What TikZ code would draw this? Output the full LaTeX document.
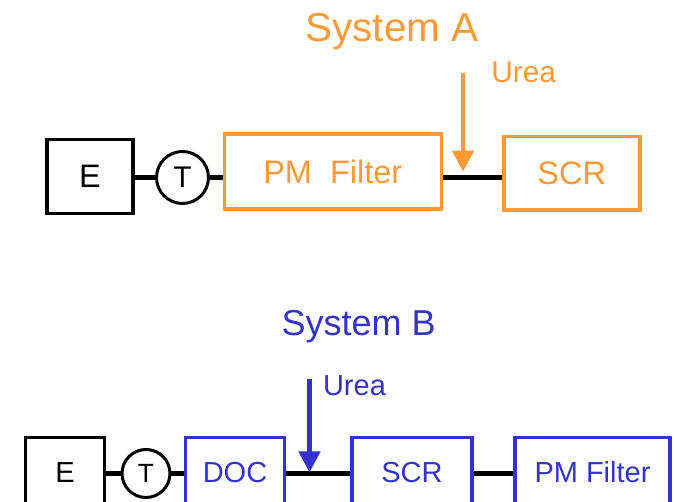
\documentclass[tikz,border=0pt]{standalone}
\usepackage{fontspec}
\setmainfont{Liberation Sans}
\usepackage{tikz}
\usetikzlibrary{arrows.meta}

\definecolor{sysA}{HTML}{FF9933}
\definecolor{sysB}{HTML}{3333CC}

\tikzset{
  unit/.style={draw, line width=2pt, inner sep=0pt},
  turbo/.style={draw, circle, line width=1.7pt, inner sep=0pt},
  pipe/.style={line width=2.5pt},
  feed/.style={line width=2.6pt, -{Triangle[width=0.42cm,length=0.42cm]}},
  tag/.style={anchor=west, inner sep=0pt},
  bigA/.style={font=\fontsize{18.5}{22}\selectfont},
  bigB/.style={font=\fontsize{16.5}{20}\selectfont},
}

\begin{document}
\begin{tikzpicture}[x=0.02cm, y=-0.02cm]
\useasboundingbox (0,0) rectangle (674,502);
\clip (0,0) rectangle (674,502);

% first layout: filter before SCR
\node[text=sysA, font=\fontsize{23}{27}\selectfont] (titA) at (392,32) {System A};
\node[unit, bigA, minimum width=1.72cm, minimum height=1.48cm] (eA) at (90,176.5) {E};
\node[turbo, minimum size=1.04cm, font=\fontsize{17}{20}\selectfont] (tA) at (182.5,177.5) {T};
\node[unit, bigA, draw=sysA, text=sysA, minimum width=4.34cm, minimum height=1.5cm] (pmA) at (332.8,171.7) {PM\ \ Filter};
\node[unit, bigA, draw=sysA, text=sysA, minimum width=2.72cm, minimum height=1.47cm] (scrA) at (571.8,173.4) {SCR};
\coordinate (inA) at (463,73);
\node[tag, text=sysA, font=\fontsize{17}{20}\selectfont] (ureaA) at (491,72.5) {Urea};

\draw[pipe] (eA.east |- tA) -- (tA.west);
\draw[pipe] (tA.east) -- (tA.east -| pmA.west);
\draw[pipe] (pmA.east |- tA) -- (scrA.west |- tA);
\draw[feed, sysA] (inA) -- (inA |- pmA.east);

% second layout: DOC, SCR, then filter
\node[text=sysB, font=\fontsize{20.5}{24}\selectfont] (titB) at (358.7,326.5) {System B};
\node[unit, bigB, minimum width=1.58cm, minimum height=1.4cm] (eB) at (65,472.5) {E};
\node[turbo, minimum size=0.96cm, font=\fontsize{15}{18}\selectfont] (tB) at (146,473.5) {T};
\node[unit, bigB, draw=sysB, text=sysB, minimum width=1.98cm, minimum height=1.4cm] (docB) at (235,472.5) {DOC};
\node[unit, bigB, draw=sysB, text=sysB, minimum width=2.41cm, minimum height=1.4cm] (scrB) at (412,472.5) {SCR};
\node[unit, bigB, draw=sysB, text=sysB, minimum width=3.11cm, minimum height=1.4cm] (pmB) at (592.5,472.5) {PM Filter};
\coordinate (inB) at (309.5,379);
\node[tag, text=sysB, font=\fontsize{16.5}{20}\selectfont] (ureaB) at (322.7,386) {Urea};

\draw[pipe] (eB.east |- tB) -- (tB.west);
\draw[pipe] (tB.east) -- (tB.east -| docB.west);
\draw[pipe] (docB.east |- tB) -- (scrB.west |- tB);
\draw[pipe] (scrB.east |- tB) -- (pmB.west |- tB);
\draw[feed, sysB] (inB) -- (inB |- docB.east);
\end{tikzpicture}
\end{document}
